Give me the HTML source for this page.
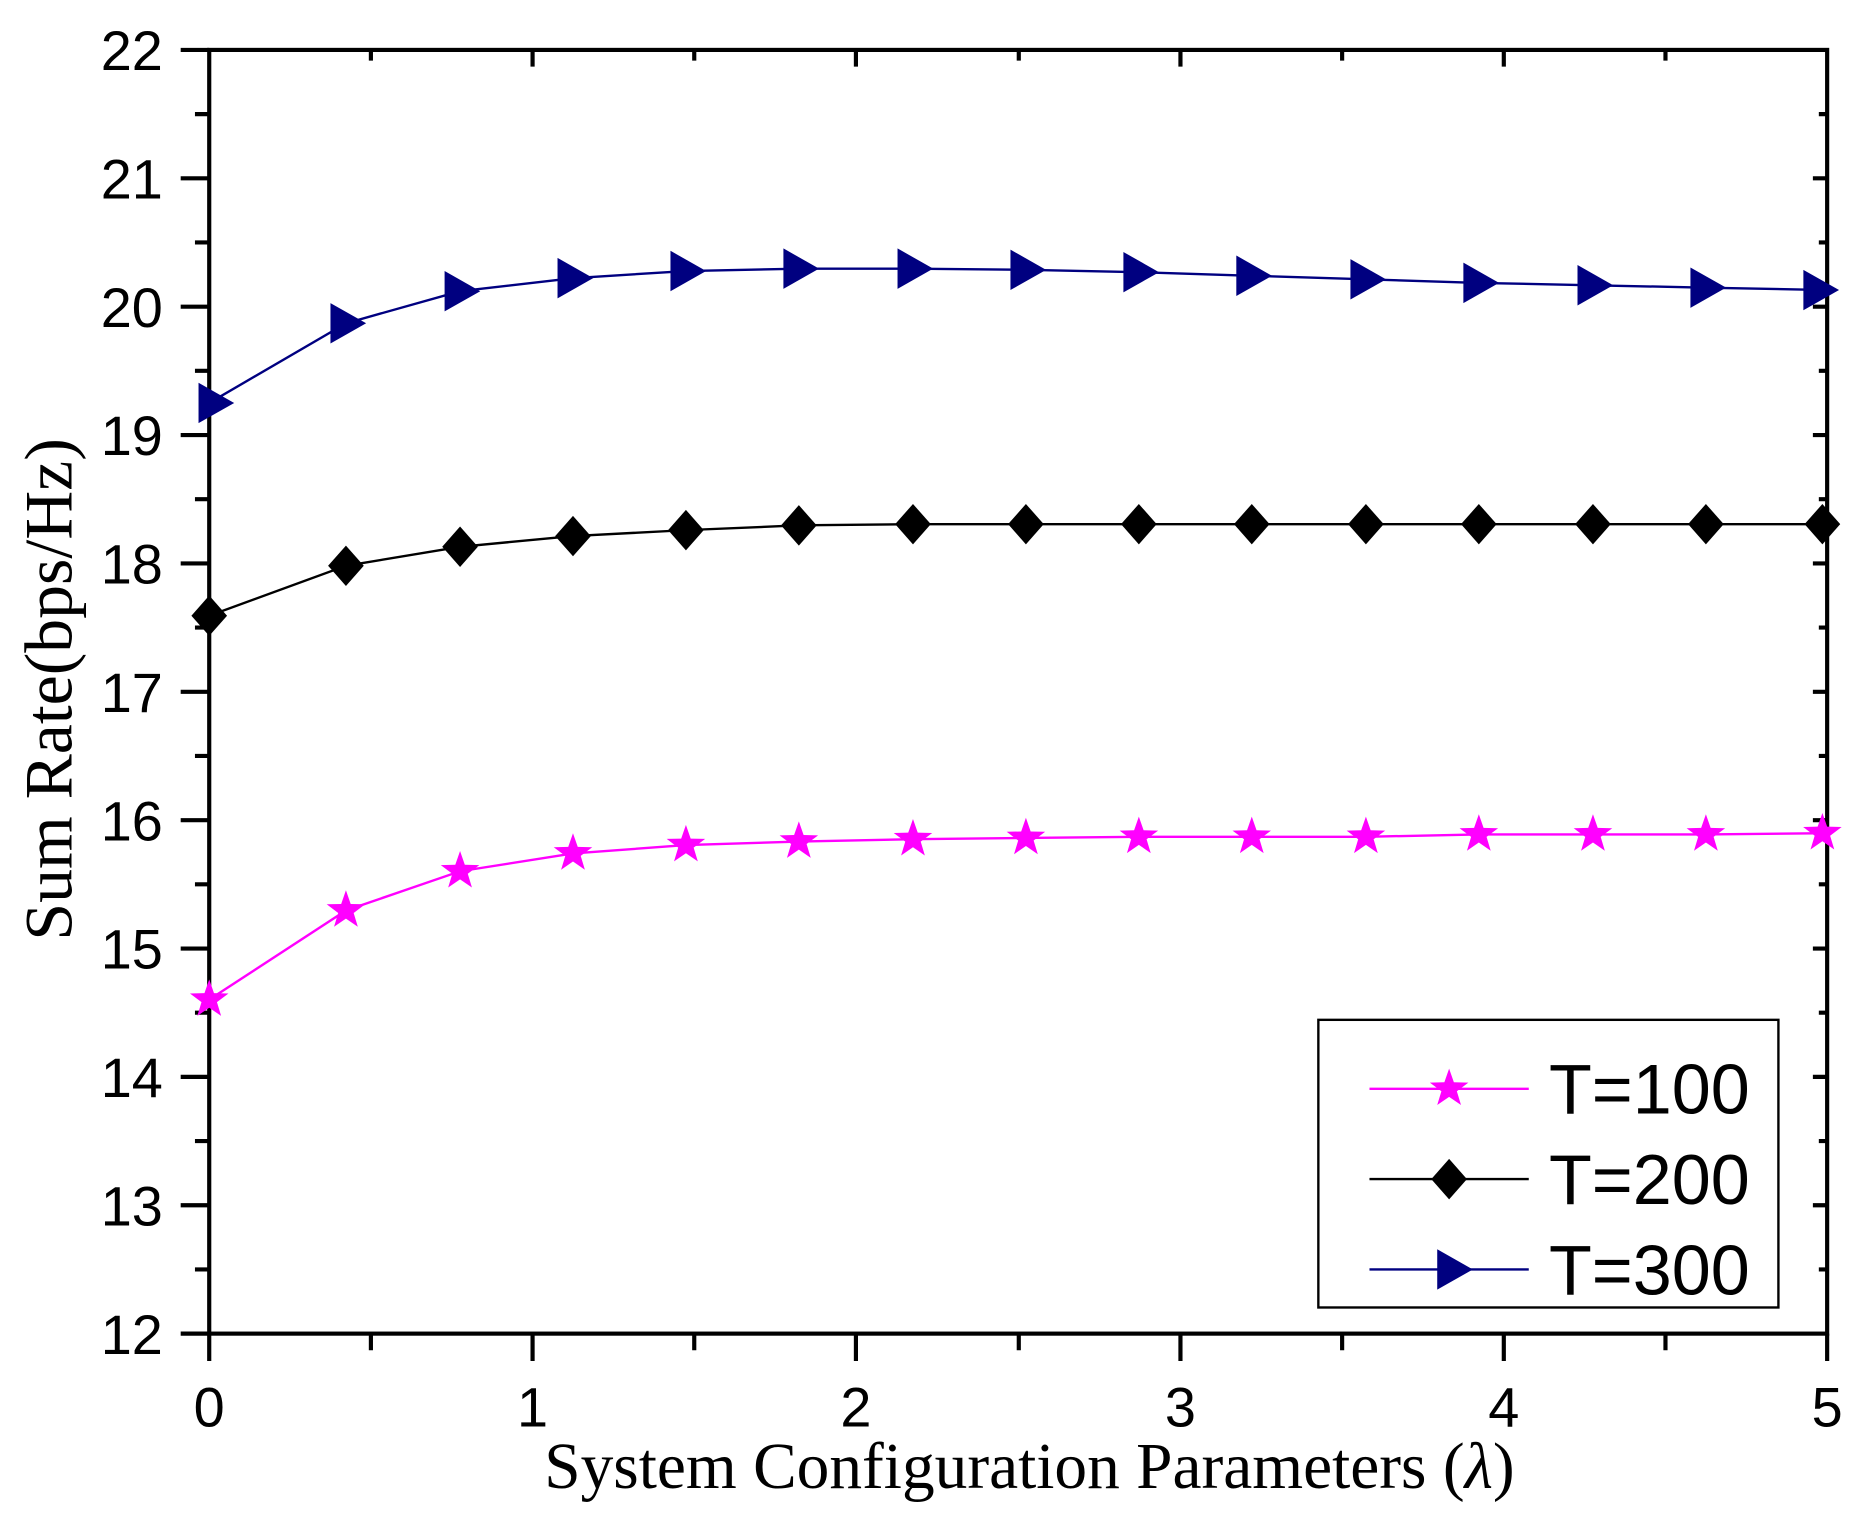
<!DOCTYPE html>
<html><head><meta charset="utf-8"><style>
html,body{margin:0;padding:0;background:#fff;}
svg{display:block;}
</style></head><body>
<svg width="1864" height="1525" viewBox="0 0 1568 1283" preserveAspectRatio="none" xmlns="http://www.w3.org/2000/svg">
<rect width="1568" height="1283" fill="#fff"/>
<g stroke="#000" stroke-width="3.5" fill="none">
<rect x="176" y="42" width="1361" height="1080"/>
<path d="M176 1122v23M448 1122v23M720 1122v23M993 1122v23M1265 1122v23M1537 1122v23
M312 1122v14M584 1122v14M857 1122v14M1129 1122v14M1401 1122v14
M448 42v14M720 42v14M993 42v14M1265 42v14
M312 42v9M584 42v9M857 42v9M1129 42v9M1401 42v9"/>
<path d="M176 42h-24M176 150h-24M176 258h-24M176 366h-24M176 474h-24M176 582h-24M176 690h-24M176 798h-24M176 906h-24M176 1014h-24M176 1122h-24
M176 96h-12M176 204h-12M176 312h-12M176 420h-12M176 528h-12M176 636h-12M176 744h-12M176 852h-12M176 960h-12M176 1068h-12
M1537 150h-12M1537 258h-12M1537 366h-12M1537 474h-12M1537 582h-12M1537 690h-12M1537 798h-12M1537 906h-12M1537 1014h-12
M1537 96h-7M1537 204h-7M1537 312h-7M1537 420h-7M1537 528h-7M1537 636h-7M1537 744h-7M1537 852h-7M1537 960h-7M1537 1068h-7"/>
</g>
<g font-family="Liberation Sans, Arial, sans-serif" font-size="47" fill="#000" text-anchor="end">
<text x="137" y="59">22</text><text x="137" y="167">21</text><text x="137" y="275">20</text><text x="137" y="383">19</text><text x="137" y="491">18</text><text x="137" y="599">17</text><text x="137" y="707">16</text><text x="137" y="815">15</text><text x="137" y="923">14</text><text x="137" y="1031">13</text><text x="137" y="1139">12</text>
</g>
<g font-family="Liberation Sans, Arial, sans-serif" font-size="47" fill="#000" text-anchor="middle">
<text x="176" y="1200">0</text><text x="448" y="1200">1</text><text x="720" y="1200">2</text><text x="993" y="1200">3</text><text x="1265" y="1200">4</text><text x="1537" y="1200">5</text>
</g>
<text x="866" y="1252" font-family="Liberation Serif, serif" font-size="55" text-anchor="middle">System Configuration Parameters (<tspan font-style="italic">λ</tspan>)</text>
<text transform="translate(60,580) rotate(-90)" font-family="Liberation Serif, serif" font-size="57" text-anchor="middle">Sum Rate(bps/Hz)</text>
<defs>
<polygon id="star" points="0,-17 4,-5.5 16.2,-5.2 6.5,2.1 10,13.7 0,6.8 -10,13.7 -6.5,2.1 -16.2,-5.2 -4,-5.5" fill="#ff00ff"/>
<polygon id="dia" points="0,-17 15,0 0,17 -15,0" fill="#000"/>
<polygon id="tri" points="-13,-17 17,0 -13,17" fill="#000080"/>
</defs>
<polyline fill="none" stroke="#ff00ff" stroke-width="2" points="176,841 291,766 387,733 482,718 577,711 672,708 768,706 863,705 958,704 1053,704 1149,704 1244,702 1340,702 1435,702 1537,701"/>
<polyline fill="none" stroke="#000" stroke-width="2" points="176,518 291,476 387,460 482,451 577,446 672,442 768,441 863,441 958,441 1053,441 1149,441 1244,441 1340,441 1435,441 1537,441"/>
<polyline fill="none" stroke="#000080" stroke-width="2" points="176,339 291,272 387,245 482,234 577,228 672,226 768,226 863,227 958,229 1053,232 1149,235 1244,238 1340,240 1435,242 1537,244"/>
<g>
<use href="#star" x="176" y="841"/><use href="#star" x="291" y="766"/><use href="#star" x="387" y="733"/><use href="#star" x="482" y="718"/><use href="#star" x="577" y="711"/><use href="#star" x="672" y="708"/><use href="#star" x="768" y="706"/><use href="#star" x="863" y="705"/><use href="#star" x="958" y="704"/><use href="#star" x="1053" y="704"/><use href="#star" x="1149" y="704"/><use href="#star" x="1244" y="702"/><use href="#star" x="1340" y="702"/><use href="#star" x="1435" y="702"/><use href="#star" x="1533" y="701"/>
<use href="#dia" x="176" y="518"/><use href="#dia" x="291" y="476"/><use href="#dia" x="387" y="460"/><use href="#dia" x="482" y="451"/><use href="#dia" x="577" y="446"/><use href="#dia" x="672" y="442"/><use href="#dia" x="768" y="441"/><use href="#dia" x="863" y="441"/><use href="#dia" x="958" y="441"/><use href="#dia" x="1053" y="441"/><use href="#dia" x="1149" y="441"/><use href="#dia" x="1244" y="441"/><use href="#dia" x="1340" y="441"/><use href="#dia" x="1435" y="441"/><use href="#dia" x="1533" y="441"/>
<use href="#tri" x="180" y="339"/><use href="#tri" x="291" y="272"/><use href="#tri" x="387" y="245"/><use href="#tri" x="482" y="234"/><use href="#tri" x="577" y="228"/><use href="#tri" x="672" y="226"/><use href="#tri" x="768" y="226"/><use href="#tri" x="863" y="227"/><use href="#tri" x="958" y="229"/><use href="#tri" x="1053" y="232"/><use href="#tri" x="1149" y="235"/><use href="#tri" x="1244" y="238"/><use href="#tri" x="1340" y="240"/><use href="#tri" x="1435" y="242"/><use href="#tri" x="1530" y="244"/>
</g>
<rect x="1109" y="858" width="387" height="242" fill="#fff" stroke="#000" stroke-width="2"/>
<line x1="1152" y1="916" x2="1286" y2="916" stroke="#ff00ff" stroke-width="2"/>
<use href="#star" x="1219" y="916"/>
<line x1="1152" y1="992" x2="1286" y2="992" stroke="#000" stroke-width="2"/>
<use href="#dia" x="1219" y="992"/>
<line x1="1152" y1="1068" x2="1286" y2="1068" stroke="#000080" stroke-width="2"/>
<use href="#tri" x="1222" y="1068"/>
<g font-family="Liberation Sans, Arial, sans-serif" font-size="59" fill="#000">
<text x="1303" y="937">T=100</text><text x="1303" y="1013">T=200</text><text x="1303" y="1089">T=300</text>
</g>
</svg>
</body></html>
